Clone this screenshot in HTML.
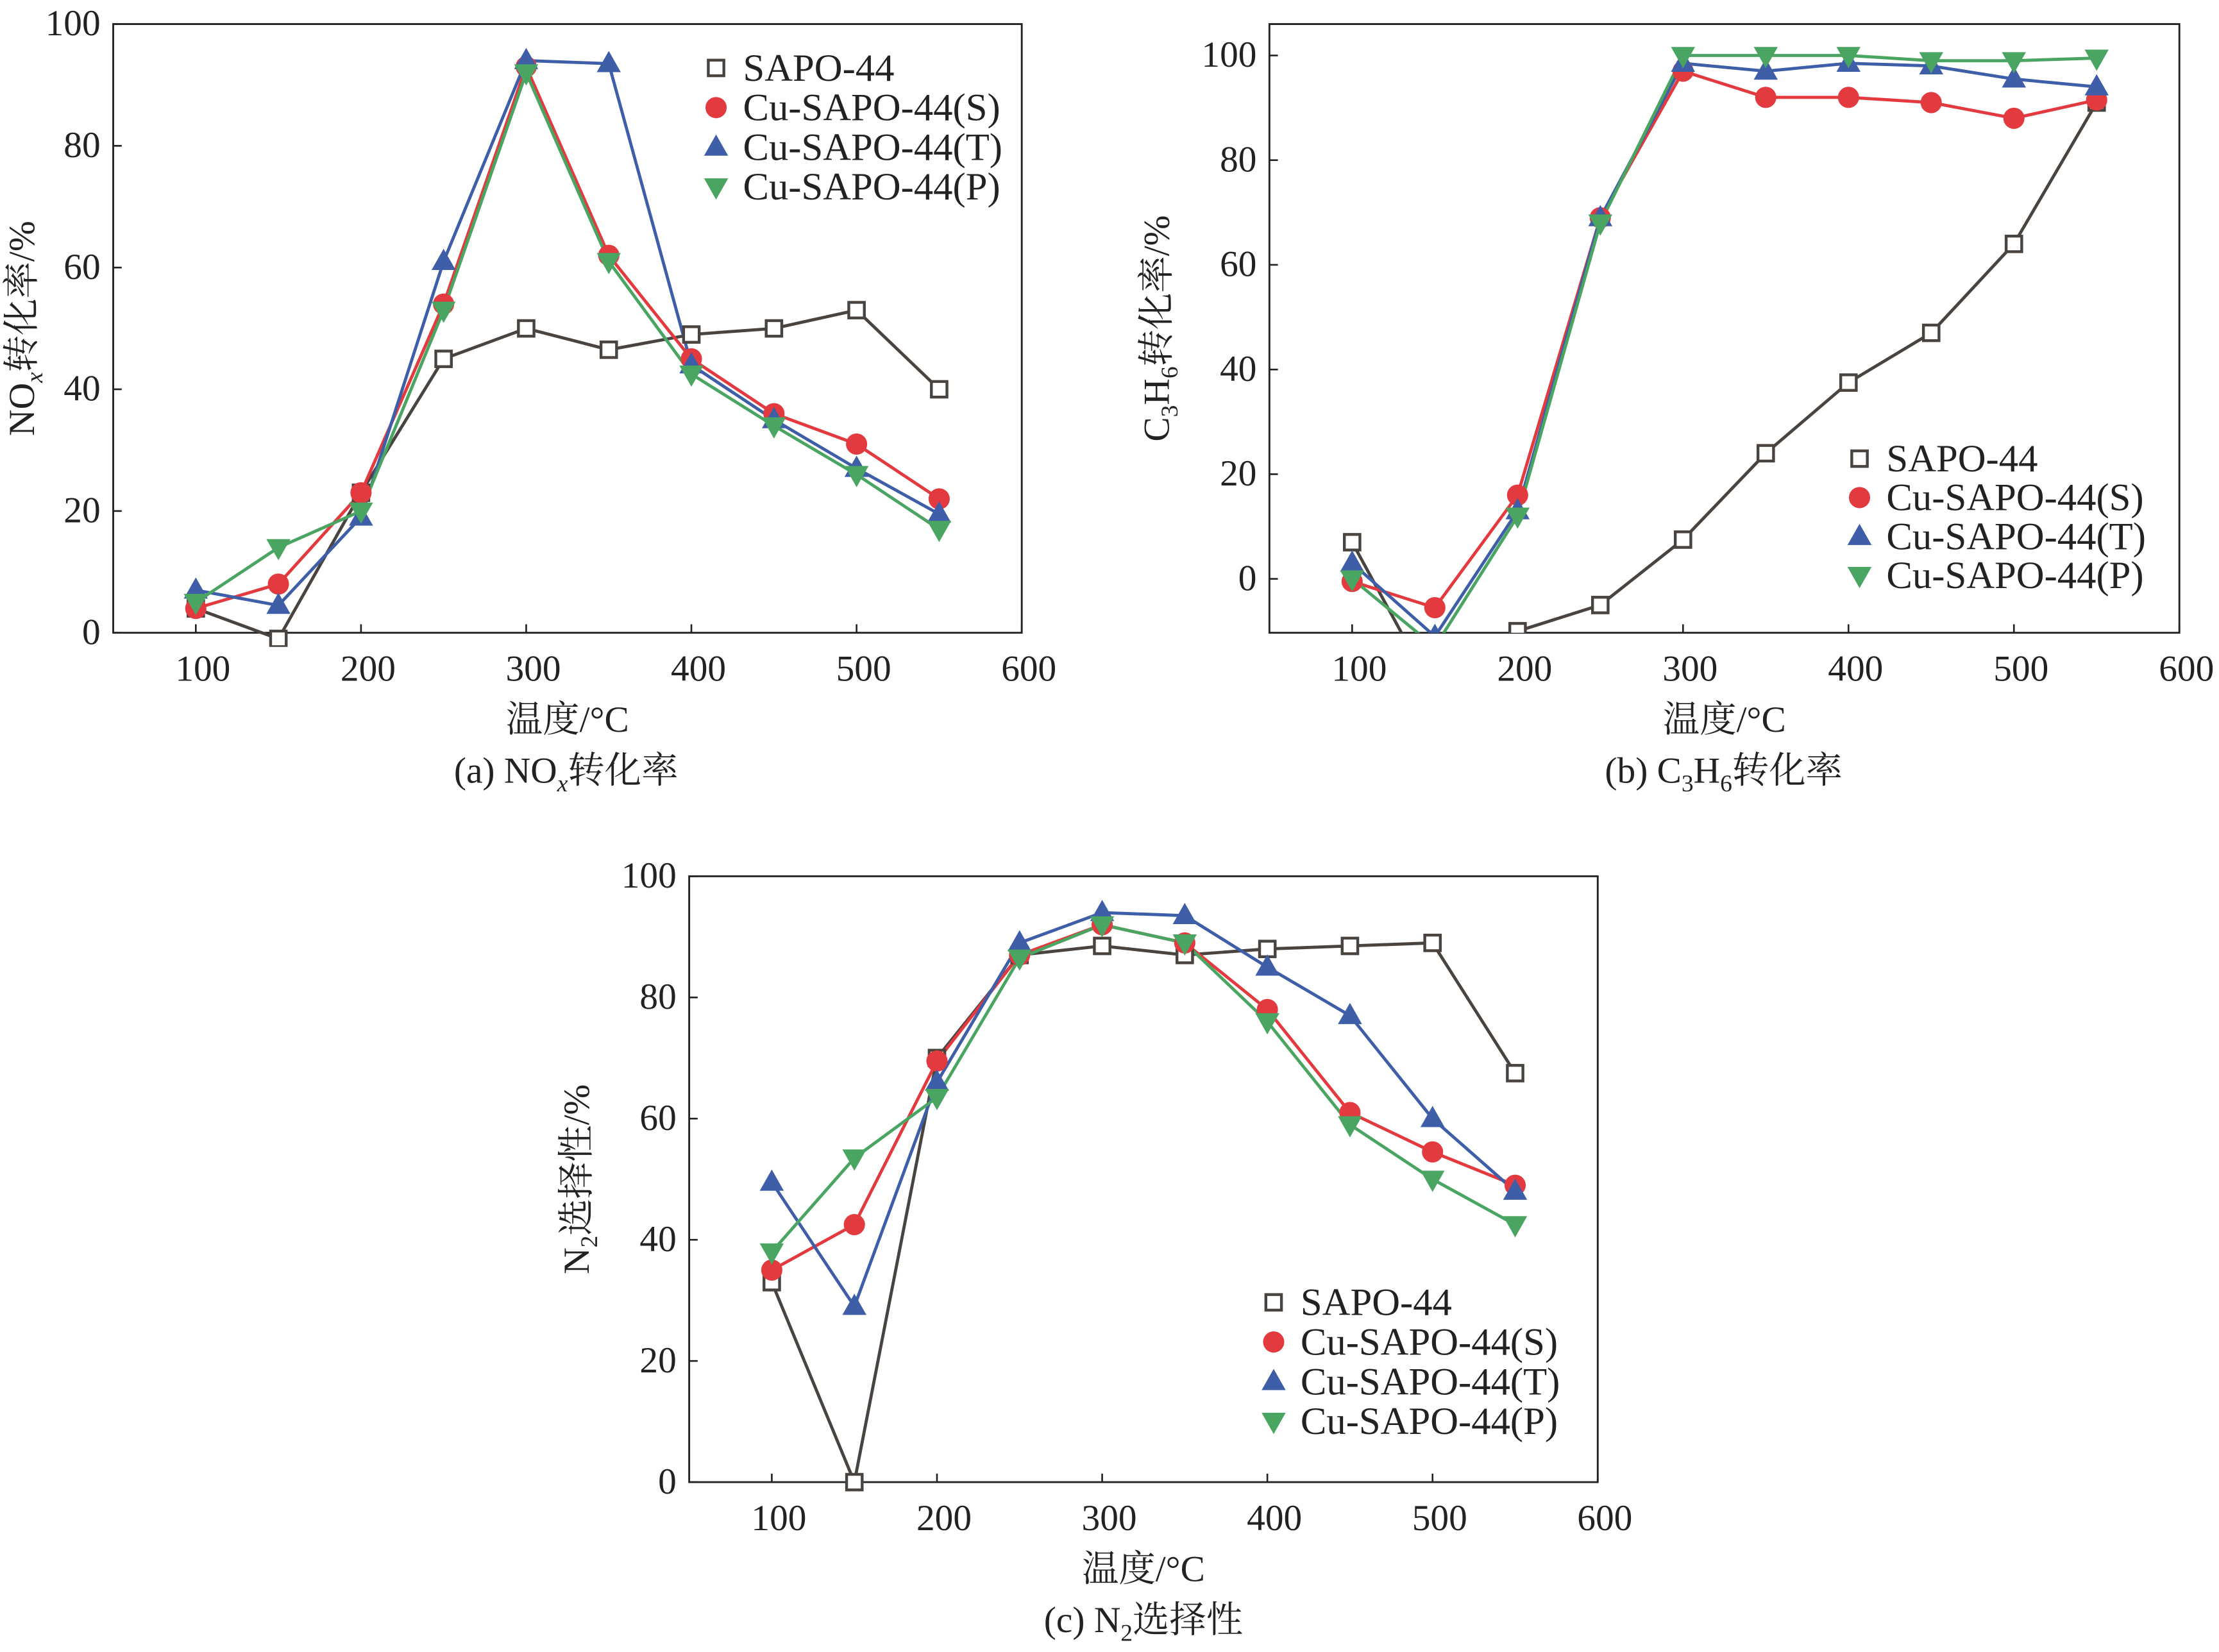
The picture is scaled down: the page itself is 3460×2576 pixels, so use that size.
<!DOCTYPE html>
<html><head><meta charset="utf-8">
<style>
html,body{margin:0;padding:0;background:#fff;}
svg{display:block;}
text{font-family:"Liberation Serif","Noto Serif CJK SC",serif;fill:#222;}
</style></head>
<body>
<svg id="chart" width="3460" height="2576" viewBox="0 0 1568 1167" preserveAspectRatio="none" xmlns="http://www.w3.org/2000/svg">
<defs>
<clipPath id="clipA"><rect x="80" y="17" width="642" height="440"/></clipPath>
<clipPath id="clipB"><rect x="897" y="17" width="643" height="430"/></clipPath>
<clipPath id="clipC"><rect x="487" y="610" width="642" height="447"/></clipPath>
</defs>
</svg>
<script>
const temps = [100,150,200,250,300,350,400,450,500,550];
const seriesNames = ["SAPO-44","Cu-SAPO-44(S)","Cu-SAPO-44(T)","Cu-SAPO-44(P)"];
const noxSapo = [4,-1,23,45,50,46.5,49,50,53,40];
const noxS = [4,8,23,54,93,62,45,36,31,22];
const noxT = [7,4.5,19,61,94,93.5,44,35,27,19.5];
const noxP = [5,14,20,53,92,61,42.5,34,26,17];
const c3Sapo = [7,-22,-10,-5,7.5,24,37.5,47,64,91];
const c3S = [-0.5,-5.5,16,69,97,92,92,91,88,91.5];
const c3T = [3,-11,13,69,98.5,97,98.5,98,95.5,94];
const c3P = [0,-13,12,68,100,100,100,99,99,99.5];
const n2Sapo = [33,0,70,87,88.5,87,88,88.5,89,67.5];
const n2S = [35,42.5,69.5,87,92,89,78,61,54.5,49];
const n2T = [49.5,29,66,89,94,93.5,85,77,60,48];
const n2P = [38,53.5,63.5,86.5,92,89,76,59,50,42.5];
const xTicks = [100,200,300,400,500,600];
const yTicksA = [0,20,40,60,80,100];
const yTicksB = [0,20,40,60,80,100];

const NS="http://www.w3.org/2000/svg";
const svg=document.getElementById('chart');
const colors=["#4a4440","#e23a3f","#3f5ea8","#4aa462"];
function mk(tag,attrs,parent){const e=document.createElementNS(NS,tag);for(const k in attrs)e.setAttribute(k,attrs[k]);(parent||svg).appendChild(e);return e;}

function panel(cfg){
  const g=mk('g',{});
  
  
  const {x0,x1,y0,y1,xmin,xmax,ymin,ymax}=cfg;
  const sx=v=>x0+(v-xmin)/(xmax-xmin)*(x1-x0);
  const sy=v=>y1-(v-ymin)/(ymax-ymin)*(y1-y0);
  const box=mk('rect',{x:x0,y:y0,width:x1-x0,height:y1-y0,fill:'none',stroke:'#222','stroke-width':1.3},g);
  
  
  xTicks.forEach(t=>{
    const x=sx(t);
    mk('line',{x1:x,x2:x,y1:y1,y2:y1-6,stroke:'#222','stroke-width':1.2},g);
    const tx=mk('text',{x:x+5,y:y1+34,'text-anchor':'middle','font-size':26},g);
    tx.textContent=t;
    
    
  });
  cfg.yTicks.forEach(t=>{
    const y=sy(t);
    mk('line',{x1:x0,x2:x0+6,y1:y,y2:y,stroke:'#222','stroke-width':1.2},g);
    const tx=mk('text',{x:x0-9,y:y+8,'text-anchor':'end','font-size':26},g);
    tx.textContent=t;
    
    
  });
  const xt=mk('text',{x:(x0+x1)/2,y:y1+70,'text-anchor':'middle','font-size':26},g);
  xt.textContent='温度/°C';
  
  
  const yt=mk('text',{x:0,y:0,'text-anchor':'middle','font-size':26,transform:`translate(${cfg.ytx},${(y0+y1)/2}) rotate(-90)`},g);
  yt.innerHTML=cfg.ytitle;
  
  
  const cap=mk('text',{x:cfg.capx,y:y1+106,'text-anchor':'middle','font-size':26},g);
  cap.innerHTML=cfg.caption;
  
  
  const dg=mk('g',{'clip-path':`url(#${cfg.clip})`},g);
  cfg.data.forEach((arr,si)=>{
    const pts=temps.map((t,i)=>sx(t)+','+sy(arr[i])).join(' ');
    const pl=mk('polyline',{points:pts,fill:'none',stroke:colors[si],'stroke-width':2.2},dg);
    
    
  });
  cfg.data.forEach((arr,si)=>{
    temps.forEach((t,i)=>{
      const m=marker(si,sx(t),sy(arr[i]),dg);
      
      
    });
  });
  seriesNames.forEach((n,i)=>{
    const ly=cfg.ly+i*cfg.lstep;
    const m=marker(i,cfg.lx,ly,g);
    
    
    const tx=mk('text',{x:cfg.lx+19,y:ly+9,'font-size':27.5},g);
    tx.textContent=n;
    
    
  });
}
function marker(si,x,y,p){
  if(si===0) return mk('rect',{x:x-5.5,y:y-5.5,width:11,height:11,fill:'#fff',stroke:colors[0],'stroke-width':2},p);
  if(si===1) return mk('circle',{cx:x,cy:y,r:7.5,fill:colors[1]},p);
  if(si===2) return mk('polygon',{points:`${x},${y-9} ${x-8.5},${y+6} ${x+8.5},${y+6}`,fill:colors[2]},p);
  return mk('polygon',{points:`${x},${y+9} ${x-8.5},${y-6} ${x+8.5},${y-6}`,fill:colors[3]},p);
}
panel({id:'nox',x0:80,x1:722,y0:17,y1:447,xmin:50,xmax:600,ymin:0,ymax:100,yTicks:yTicksA,ytx:24,
  ytitle:'NO<tspan font-size="17" dy="6" font-style="italic">x</tspan><tspan dy="-6">转化率/%</tspan>',
  caption:'(a) NO<tspan font-size="17" dy="6" font-style="italic">x</tspan><tspan dy="-6">转化率</tspan>',capx:400,
  clip:'clipA',data:[noxSapo,noxS,noxT,noxP],lx:506,ly:48,lstep:28});
panel({id:'c3h6',x0:897,x1:1540,y0:17,y1:447,xmin:50,xmax:600,ymin:-10.3,ymax:106,yTicks:yTicksB,ytx:826,
  ytitle:'C<tspan font-size="17" dy="6">3</tspan><tspan dy="-6">H</tspan><tspan font-size="17" dy="6">6</tspan><tspan dy="-6">转化率/%</tspan>',
  caption:'(b) C<tspan font-size="17" dy="6">3</tspan><tspan dy="-6">H</tspan><tspan font-size="17" dy="6">6</tspan><tspan dy="-6">转化率</tspan>',capx:1218,
  clip:'clipB',data:[c3Sapo,c3S,c3T,c3P],lx:1314,ly:324,lstep:27.5});
panel({id:'n2',x0:487,x1:1129,y0:619,y1:1047,xmin:50,xmax:600,ymin:0,ymax:100,yTicks:yTicksA,ytx:416,
  ytitle:'N<tspan font-size="17" dy="6">2</tspan><tspan dy="-6">选择性/%</tspan>',
  caption:'(c) N<tspan font-size="17" dy="6">2</tspan><tspan dy="-6">选择性</tspan>',capx:808,
  clip:'clipC',data:[n2Sapo,n2S,n2T,n2P],lx:900,ly:920,lstep:28});
</script>
</body></html>
